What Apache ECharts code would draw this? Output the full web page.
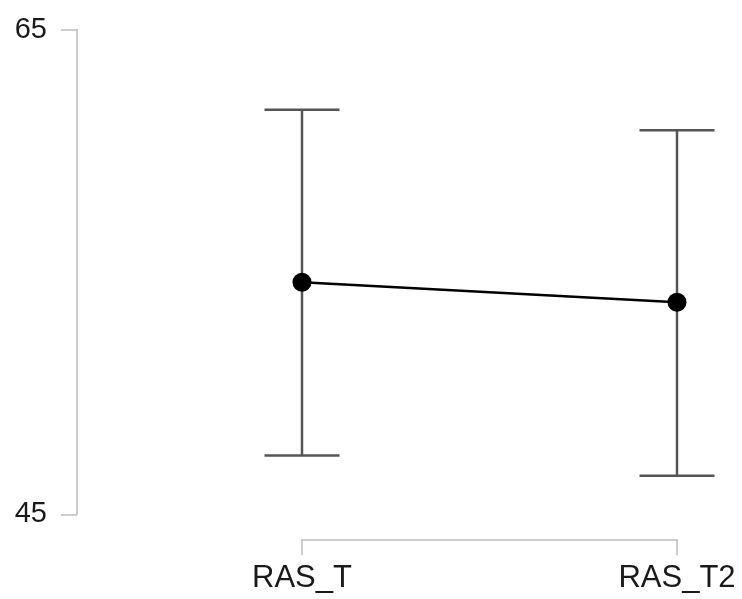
<!DOCTYPE html>
<html>
<head>
<meta charset="UTF-8">
<title></title>
<style>
  html, body { margin: 0; padding: 0; background: #fff; }
  #main { width: 742px; height: 599px; }
</style>
</head>
<body>
<div id="main"></div>
<script src="https://cdn.jsdelivr.net/npm/echarts@6/dist/echarts.min.js"></script>
<script type="text/javascript">
  // data
  var categories = ['RAS_T', 'RAS_T2'];
  var means = [54.57, 53.75];
  var lower = [47.43, 46.59];
  var upper = [61.69, 60.84];
  var yTicks = [45, 65];

  var barData = [];
  for (var i = 0; i < categories.length; i++) {
    barData.push([i, lower[i], upper[i]]);
  }

  var chart = echarts.init(document.getElementById('main'));
  var axisGray = '#bdbdbd';
  var fontFam = '"Liberation Sans", Arial, sans-serif';

  chart.setOption({
    animation: false,
    grid: {
      left: 302, right: 65, top: 29.5, bottom: 84.7,
      outerBoundsMode: 'none'
    },
    xAxis: {
      type: 'category',
      data: categories,
      boundaryGap: false,
      offset: 25,
      axisLine: { lineStyle: { color: axisGray, width: 1.5 } },
      axisTick: { length: 16, lineStyle: { color: axisGray, width: 1.5 } },
      axisLabel: { fontSize: 31, color: '#1a1a1a', fontFamily: fontFam, margin: 24 },
      splitLine: { show: false }
    },
    yAxis: {
      type: 'value',
      min: yTicks[0],
      max: yTicks[1],
      interval: yTicks[1] - yTicks[0],
      offset: 225,
      axisLine: { show: true, lineStyle: { color: axisGray, width: 1.5 } },
      axisTick: { show: true, length: 16, lineStyle: { color: axisGray, width: 1.5 } },
      axisLabel: { fontSize: 29, color: '#1a1a1a', fontFamily: fontFam, margin: 30 },
      splitLine: { show: false }
    },
    series: [
      {
        type: 'custom',
        clip: false,
        data: barData,
        z: 1,
        renderItem: function (params, api) {
          var x = api.value(0);
          var lo = api.coord([x, api.value(1)]);
          var hi = api.coord([x, api.value(2)]);
          var half = 37.5;
          var style = { stroke: '#555', lineWidth: 2.5 };
          return {
            type: 'group',
            children: [
              { type: 'line', shape: { x1: lo[0], y1: lo[1], x2: hi[0], y2: hi[1] }, style: style },
              { type: 'line', shape: { x1: hi[0] - half, y1: hi[1], x2: hi[0] + half, y2: hi[1] }, style: style },
              { type: 'line', shape: { x1: lo[0] - half, y1: lo[1], x2: lo[0] + half, y2: lo[1] }, style: style }
            ]
          };
        }
      },
      {
        type: 'line',
        clip: false,
        data: means,
        z: 3,
        symbol: 'circle',
        symbolSize: 19,
        itemStyle: { color: '#000' },
        lineStyle: { color: '#000', width: 2.5 }
      }
    ]
  });
</script>
</body>
</html>
